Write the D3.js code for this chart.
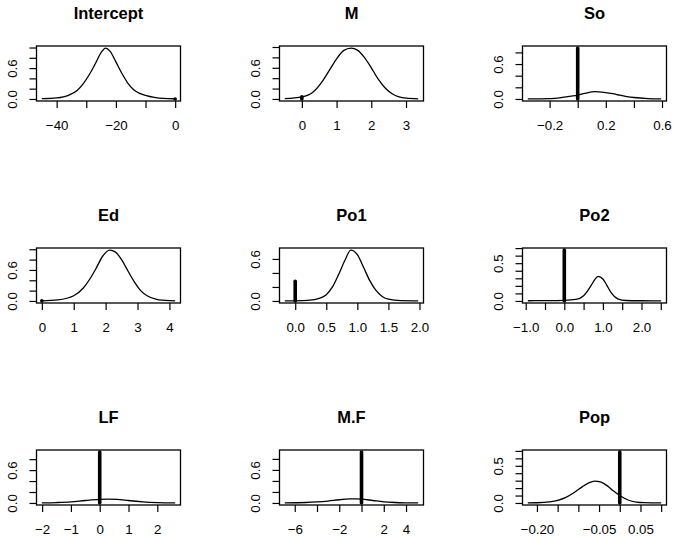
<!DOCTYPE html>
<html>
<head>
<meta charset="utf-8">
<script src="https://cdn.jsdelivr.net/npm/d3@7"></script>
<style>
  body { margin: 0; background: #fff; }
  svg { display: block; font-family: "Liberation Sans", Arial, Helvetica, sans-serif; }
</style>
</head>
<body>
<div id="chart"></div>
<script>
var names = ["Intercept", "M", "So", "Ed", "Po1", "Po2", "LF", "M.F", "Pop"];

// posterior density curves
var interceptX = [-45, -40, -36, -33, -31, -29, -27, -25, -23.5, -22, -20, -18, -16, -14, -12, -10, -7, -4, 0];
var interceptY = [0.005, 0.02, 0.07, 0.17, 0.30, 0.47, 0.68, 0.90, 0.99, 0.93, 0.72, 0.50, 0.31, 0.18, 0.11, 0.07, 0.03, 0.01, 0.004];
var mX = [-0.49, 0, 0.3, 0.6, 0.8, 1.0, 1.2, 1.42, 1.6, 1.8, 2.0, 2.2, 2.4, 2.6, 2.8, 3.0, 3.35];
var mY = [0.005, 0.04, 0.12, 0.35, 0.56, 0.77, 0.93, 0.98, 0.94, 0.80, 0.60, 0.38, 0.21, 0.10, 0.04, 0.015, 0.003];
var soX = [-0.355, -0.2, -0.1, 0, 0.05, 0.1, 0.12, 0.15, 0.2, 0.25, 0.3, 0.35, 0.4, 0.5, 0.594];
var soY = [0.001, 0.006, 0.03, 0.065, 0.095, 0.12, 0.125, 0.123, 0.11, 0.09, 0.065, 0.042, 0.025, 0.007, 0.002];
var edX = [0, 0.5, 1.0, 1.3, 1.5, 1.7, 1.9, 2.13, 2.3, 2.5, 2.7, 2.9, 3.1, 3.3, 3.6, 4.0, 4.18];
var edY = [0.003, 0.02, 0.10, 0.25, 0.42, 0.63, 0.86, 0.985, 0.95, 0.80, 0.58, 0.37, 0.20, 0.10, 0.03, 0.005, 0.002];
var po1X = [-0.167, 0, 0.2, 0.4, 0.5, 0.6, 0.7, 0.8, 0.894, 1.0, 1.1, 1.2, 1.3, 1.4, 1.5, 1.7, 1.979];
var po1Y = [0.001, 0.002, 0.008, 0.04, 0.09, 0.20, 0.38, 0.58, 0.727, 0.66, 0.48, 0.29, 0.15, 0.065, 0.025, 0.004, 0.001];
var po2X = [-0.945, -0.5, 0, 0.3, 0.5, 0.6, 0.7, 0.8, 0.88, 1.0, 1.1, 1.2, 1.3, 1.4, 1.6, 2.0, 2.51];
var po2Y = [0.003, 0.004, 0.008, 0.02, 0.07, 0.13, 0.21, 0.29, 0.326, 0.29, 0.21, 0.12, 0.06, 0.025, 0.006, 0.003, 0.002];
var lfX = [-2.01, -1.5, -1.0, -0.5, 0, 0.3, 0.6, 1.0, 1.5, 2.0, 2.62];
var lfY = [0.002, 0.008, 0.02, 0.045, 0.065, 0.07, 0.065, 0.045, 0.02, 0.007, 0.002];
var mfX = [-6.89, -5, -4, -3, -2, -1, -0.5, 0, 1, 2, 3, 4, 5.09];
var mfY = [0.002, 0.008, 0.018, 0.035, 0.058, 0.073, 0.075, 0.07, 0.045, 0.02, 0.008, 0.003, 0.001];
var popX = [-0.222, -0.2, -0.17, -0.15, -0.13, -0.11, -0.09, -0.075, -0.061, -0.045, -0.03, -0.015, 0, 0.02, 0.04, 0.06, 0.1];
var popY = [0.001, 0.003, 0.015, 0.035, 0.075, 0.14, 0.22, 0.27, 0.295, 0.28, 0.23, 0.16, 0.10, 0.04, 0.012, 0.004, 0.001];

var curvesX = [interceptX, mX, soX, edX, po1X, po2X, lfX, mfX, popX];
var curvesY = [interceptY, mY, soY, edY, po1Y, po2Y, lfY, mfY, popY];

// bar at zero: probability that the coefficient is 0
var spikeAtZero = [0, 0.04, 0.875, 0.005, 0.28, 0.674, 0.93, 0.925, 0.685];

var xTicks = [
  [-40, -30, -20, -10, 0],
  [0, 1, 2, 3],
  [-0.2, 0, 0.2, 0.4, 0.6],
  [0, 1, 2, 3, 4],
  [0, 0.5, 1, 1.5, 2],
  [-1, -0.5, 0, 0.5, 1, 1.5, 2, 2.5],
  [-2, -1, 0, 1, 2],
  [-6, -4, -2, 0, 2, 4],
  [-0.2, -0.15, -0.1, -0.05, 0, 0.05, 0.1]
];
var xTickLabels = [
  ["\u221240", "", "\u221220", "", "0"],
  ["0", "1", "2", "3"],
  ["\u22120.2", "", "0.2", "", "0.6"],
  ["0", "1", "2", "3", "4"],
  ["0.0", "0.5", "1.0", "1.5", "2.0"],
  ["\u22121.0", "", "0.0", "", "1.0", "", "2.0", ""],
  ["\u22122", "\u22121", "0", "1", "2"],
  ["\u22126", "", "\u22122", "", "2", "4"],
  ["\u22120.20", "", "", "\u22120.05", "", "0.05", ""]
];
var yTicks = [
  [0, 0.2, 0.4, 0.6, 0.8, 1.0],
  [0, 0.2, 0.4, 0.6, 0.8, 1.0],
  [0, 0.2, 0.4, 0.6, 0.8],
  [0, 0.2, 0.4, 0.6, 0.8, 1.0],
  [0, 0.2, 0.4, 0.6],
  [0, 0.1, 0.2, 0.3, 0.4, 0.5, 0.6, 0.7],
  [0, 0.2, 0.4, 0.6, 0.8],
  [0, 0.2, 0.4, 0.6, 0.8],
  [0, 0.1, 0.2, 0.3, 0.4, 0.5, 0.6, 0.7]
];
var yTickLabels = [
  ["0.0", "", "", "0.6", "", ""],
  ["0.0", "", "", "0.6", "", ""],
  ["0.0", "", "", "0.6", ""],
  ["0.0", "", "", "0.6", "", ""],
  ["0.0", "", "", "0.6"],
  ["0.0", "", "", "", "", "0.5", "", ""],
  ["0.0", "", "", "0.6", ""],
  ["0.0", "", "", "0.6", ""],
  ["0.0", "", "", "", "", "0.5", "", ""]
];

var width = 673, height = 536;
var boxW = 144, boxH = 55;
var axisFont = 13.3, titleFont = 16.5;

var svg = d3.select("#chart").append("svg")
    .attr("width", width)
    .attr("height", height);

names.forEach(function(name, i) {
    var row = Math.floor(i / 3), col = i % 3;
    var left = 36.5 + col * 243;
    var top = 46 + row * 202;

    var xs = curvesX[i], ys = curvesY[i];
    var xExt = d3.extent(xs.concat([0]));
    var xPad = 0.04 * (xExt[1] - xExt[0]);
    var yMax = Math.max(d3.max(ys), spikeAtZero[i]);

    var xScale = d3.scaleLinear()
        .domain([xExt[0] - xPad, xExt[1] + xPad])
        .range([left, left + boxW]);
    var yScale = d3.scaleLinear()
        .domain([-0.04 * yMax, 1.04 * yMax])
        .range([top + boxH, top]);

    var g = svg.append("g");

    // x axis
    var xAxis = g.append("g")
        .attr("transform", "translate(0," + (top + boxH) + ")")
        .call(d3.axisBottom(xScale)
            .tickValues(xTicks[i])
            .tickFormat(function(d, j) { return xTickLabels[i][j]; })
            .tickSize(7)
            .tickSizeOuter(0)
            .tickPadding(13));
    xAxis.select(".domain").remove();
    xAxis.selectAll("line").attr("stroke", "#000").attr("stroke-width", 1.2);
    xAxis.selectAll("text")
        .attr("fill", "#000")
        .style("font-size", axisFont + "px")
        .style("font-family", "'Liberation Sans', Arial, sans-serif");

    // y axis with rotated labels
    var yAxis = g.append("g")
        .attr("transform", "translate(" + left + ",0)")
        .call(d3.axisLeft(yScale)
            .tickValues(yTicks[i])
            .tickFormat(function(d, j) { return yTickLabels[i][j]; })
            .tickSize(7)
            .tickSizeOuter(0));
    yAxis.select(".domain").remove();
    yAxis.selectAll("line").attr("stroke", "#000").attr("stroke-width", 1.2);
    yAxis.selectAll("text")
        .attr("x", null)
        .attr("dy", null)
        .attr("fill", "#000")
        .attr("text-anchor", "middle")
        .attr("transform", "translate(-19.5,0) rotate(-90)")
        .style("font-size", axisFont + "px")
        .style("font-family", "'Liberation Sans', Arial, sans-serif");

    // density curve
    var points = xs.map(function(x, j) { return {x: x, y: ys[j]}; });
    var line = d3.line()
        .x(function(d) { return xScale(d.x); })
        .y(function(d) { return yScale(d.y); })
        .curve(d3.curveMonotoneX);
    g.append("path")
        .datum(points)
        .attr("d", line)
        .attr("fill", "none")
        .attr("stroke", "#000")
        .attr("stroke-width", 1.3);

    // spike at zero
    g.append("line")
        .attr("x1", xScale(0))
        .attr("x2", xScale(0))
        .attr("y1", yScale(0))
        .attr("y2", yScale(spikeAtZero[i]))
        .attr("stroke", "#000")
        .attr("stroke-width", 3.6)
        .attr("stroke-linecap", "round");

    // box
    g.append("rect")
        .attr("x", left)
        .attr("y", top)
        .attr("width", boxW)
        .attr("height", boxH)
        .attr("fill", "none")
        .attr("stroke", "#000")
        .attr("stroke-width", 1.3);

    // title
    g.append("text")
        .attr("x", left + boxW / 2)
        .attr("y", top - 27.5)
        .attr("text-anchor", "middle")
        .attr("font-weight", "bold")
        .style("font-size", titleFont + "px")
        .text(name);
});
</script>
</body>
</html>
